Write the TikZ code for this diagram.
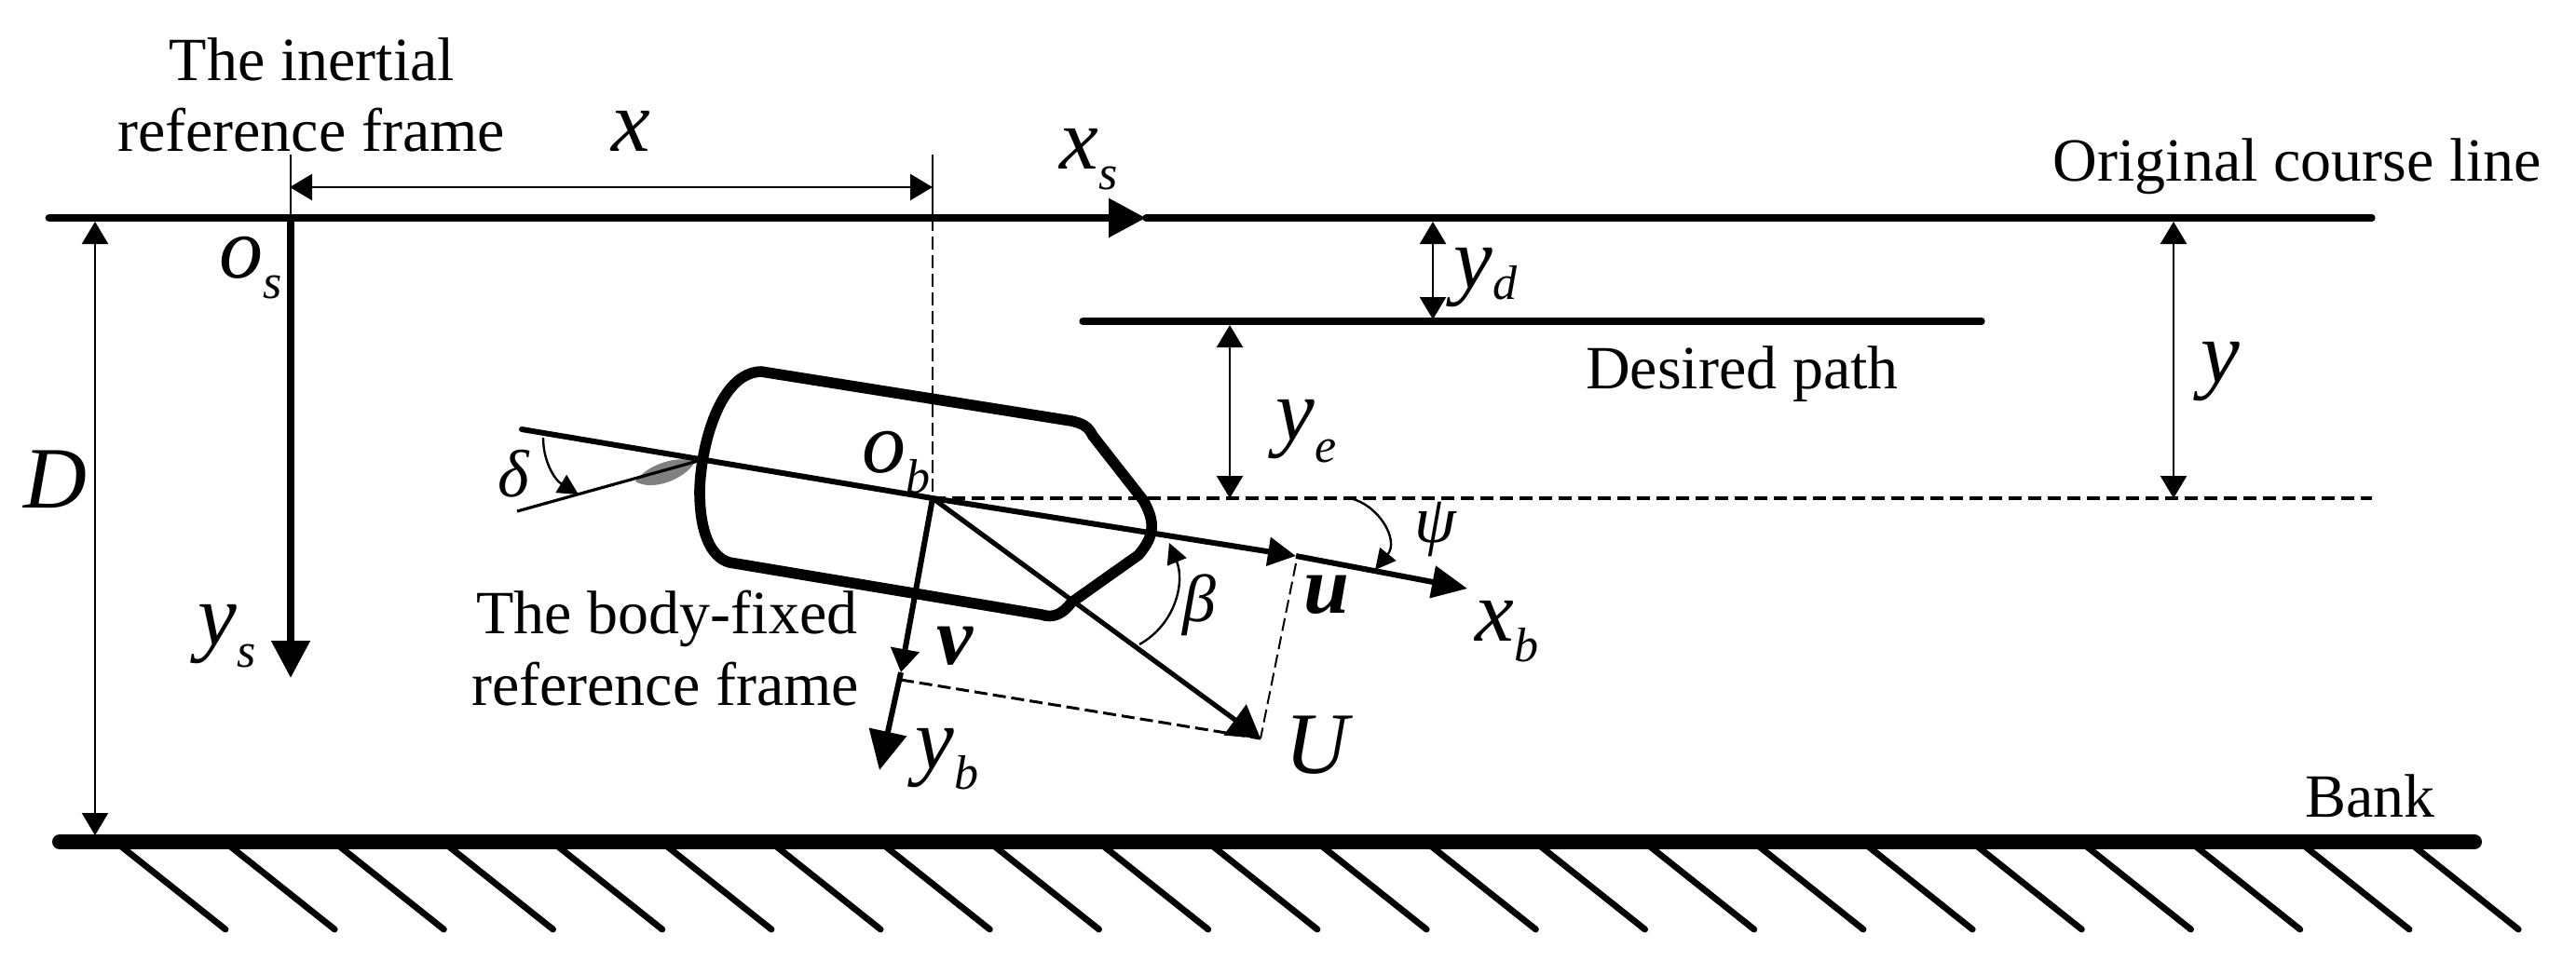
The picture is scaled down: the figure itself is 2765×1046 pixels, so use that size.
\documentclass[tikz,border=0pt]{standalone}
\usepackage{fontspec}
\setmainfont{Liberation Serif}
\usetikzlibrary{arrows.meta}
\newcommand{\symsub}[3][-11pt]{#2\raisebox{#1}{\fontsize{26}{26}\selectfont #3}}
\tikzset{
  txt/.style={inner sep=0pt,anchor=base,font=\fontsize{33}{33}\selectfont},
  sym/.style={inner sep=0pt,anchor=base west,font=\fontsize{47}{47}\selectfont\itshape},
  greek/.style={inner sep=0pt,anchor=base west,font=\fontsize{36}{36}\selectfont\itshape},
  boldsym/.style={inner sep=0pt,anchor=base west,font=\fontsize{44}{44}\selectfont\bfseries\itshape},
  thinline/.style={line width=1.2pt},
  dimline/.style={line width=1.2pt,{Triangle[length=12pt,width=14pt]}-{Triangle[length=12pt,width=14pt]}},
  anglearc/.style={line width=1.2pt,-{Triangle[length=11pt,width=11pt]}},
  axisline/.style={line width=3.6pt,-{Triangle[length=20pt,width=20pt]}},
  thindash/.style={line width=1pt,dash pattern=on 7pt off 3pt},
  thickdash/.style={line width=1.7pt,dash pattern=on 7pt off 3.5pt}
}
\begin{document}
\begin{tikzpicture}[x=0.5pt,y=-0.5pt]
  \useasboundingbox (0,0) rectangle (2765,1046);
  % Points
  \coordinate (courseL) at (53,234);
  \coordinate (os) at (312,234);
  \coordinate (xsTip) at (1230,234);
  \coordinate (courseR) at (2546,234);
  \coordinate (ysTip) at (312,728);
  \coordinate (obTop) at (1001,234);
  \coordinate (ob) at (1001,535);
  \coordinate (dashR) at (2546,535);
  \coordinate (pathL) at (1162,345);
  \coordinate (pathR) at (2127,345);
  \coordinate (bankL) at (64,904);
  \coordinate (bankR) at (2656,904);
  \coordinate (keelL) at (560,461);
  \coordinate (uTip) at (1391,597);
  \coordinate (xbTip) at (1575,632);
  \coordinate (vTip) at (967,722);
  \coordinate (ybTip) at (944,827);
  \coordinate (uEnd) at (1353,793);
  \coordinate (vFoot) at (967,730);
  \coordinate (uFoot) at (1391,605);
  \coordinate (rudderL) at (555,549);
  \coordinate (rudderR) at (749,495);
  % Rudder blade
  \fill[gray] (682,517) .. controls (695,498) and (730,488) .. (746,496) .. controls (735,515) and (700,528) .. (682,517) -- cycle;
  % Hull
  \draw[line width=5.8pt,line join=round] (817,399) -- (1150,452) .. controls (1163,455) and (1168,458) .. (1173,468)
    -- (1227,537) .. controls (1240,560) and (1240,575) .. (1222,596) -- (1150,647)
    .. controls (1140,660) and (1130,664) .. (1118,660) -- (783,604)
    .. controls (762,598) and (751,570) .. (751,527) .. controls (752,480) and (772,400) .. (817,399) -- cycle;
  % Course lines
  \draw[axisline,line width=4.4pt,line cap=round] (courseL) -- (xsTip);
  \draw[line width=3.6pt,line cap=round] (xsTip) -- (courseR);
  \draw[line width=3.6pt,line cap=round] (pathL) -- (pathR);
  \draw[axisline,line width=4pt] (os) -- (ysTip);
  % Bank and hatching
  \draw[line width=8pt,line cap=round] (bankL) -- (bankR);
  \foreach \k in {0,...,21} {
    \draw[line width=3.4pt,line cap=round] ({129+117.2*\k},908) -- ++(113,90);
  }
  % Dimensions
  \draw[thinline] (os) -- ++(0,-68) coordinate (xTickL);
  \draw[thinline] (obTop) -- ++(0,-68) coordinate (xTickR);
  \draw[dimline] (311,201) coordinate (xDimL) -- (1001,201) coordinate (xDimR);
  \foreach \name/\xx/\ya/\yb in {dimD/102/238/897, dimYd/1538/238/343, dimYe/1320/349/535, dimY/2333/238/535} {
    \coordinate (\name A) at (\xx,\ya);
    \coordinate (\name B) at (\xx,\yb);
    \draw[dimline] (\name A) -- (\name B);
  }
  % Dashed guides
  \draw[thindash] (obTop) -- (ob);
  \draw[thickdash] (ob) -- (dashR);
  \draw[thindash] (uFoot) -- (uEnd);
  \draw[thindash,line width=1.5pt] (vFoot) -- (uEnd);
  % Body axes
  \draw[line width=3pt,line cap=round] (keelL) -- (ob);
  \draw[line width=1.6pt] (rudderL) -- (rudderR);
  \draw[line width=3pt,-{Triangle[length=15pt,width=15pt]}] (ob) -- (uTip);
  \draw[line width=3pt,-{Triangle[length=19pt,width=17pt]}] (uTip) -- (xbTip);
  \draw[line width=3pt,-{Triangle[length=12.5pt,width=15pt]}] (ob) -- (vTip);
  \draw[line width=3pt,-{Triangle[length=21pt,width=20pt]}] (vTip) -- (ybTip);
  \draw[line width=2.6pt,-{Triangle[length=17pt,width=20pt]}] (ob) -- (uEnd);
  % Angles
  \draw[anglearc] (583,470) .. controls (583,495) and (595,515) .. (621,531);
  \draw[anglearc] (1223,692) .. controls (1262,670) and (1272,625) .. (1255,583);
  \draw[anglearc] (1449,535) .. controls (1480,542) and (1502,580) .. (1476,612);
  % Labels
  \node[txt] (lblInertialA) at (335,86) {The inertial};
  \node[txt] (lblInertialB) at (334,162) {reference frame};
  \node[txt] (lblBodyA) at (716,680) {The body-fixed};
  \node[txt] (lblBodyB) at (714,757) {reference frame};
  \node[txt] (lblCourse) at (2466,194) {Original course line};
  \node[txt] (lblPath) at (1870,417) {Desired path};
  \node[txt] (lblBank) at (2544,877) {Bank};
  \node[sym] (lblX) at (656,162) {x};
  \node[sym] (lblD) at (25,545) {D};
  \node[sym] (lblOs) at (235,298) {\symsub{o}{s}};
  \node[sym] (lblXs) at (1137,181) {\symsub{x}{s}};
  \node[sym] (lblYs) at (212,692) {\symsub[-12pt]{y}{s}};
  \node[sym] (lblYd) at (1560,309) {\symsub[-6pt]{y}{d}};
  \node[sym] (lblYe) at (1369,472) {\symsub[-12pt]{y}{e}};
  \node[sym] (lblY) at (2362,410) {y};
  \node[sym] (lblOb) at (925,507) {\symsub{o}{b}};
  \node[sym] (lblXb) at (1583,688) {\symsub{x}{b}};
  \node[sym] (lblYb) at (982,825) {\symsub{y}{b}};
  \node[sym] (lblU) at (1379,830) {U};
  \node[boldsym] (lblSmallU) at (1399,658) {u};
  \node[boldsym] (lblSmallV) at (1005,713) {v};
  \node[greek] (lblDelta) at (534,533) {δ};
  \node[greek] (lblBeta) at (1269,667) {β};
  \node[greek] (lblPsi) at (1518,582) {ψ};
\end{tikzpicture}
\end{document}
